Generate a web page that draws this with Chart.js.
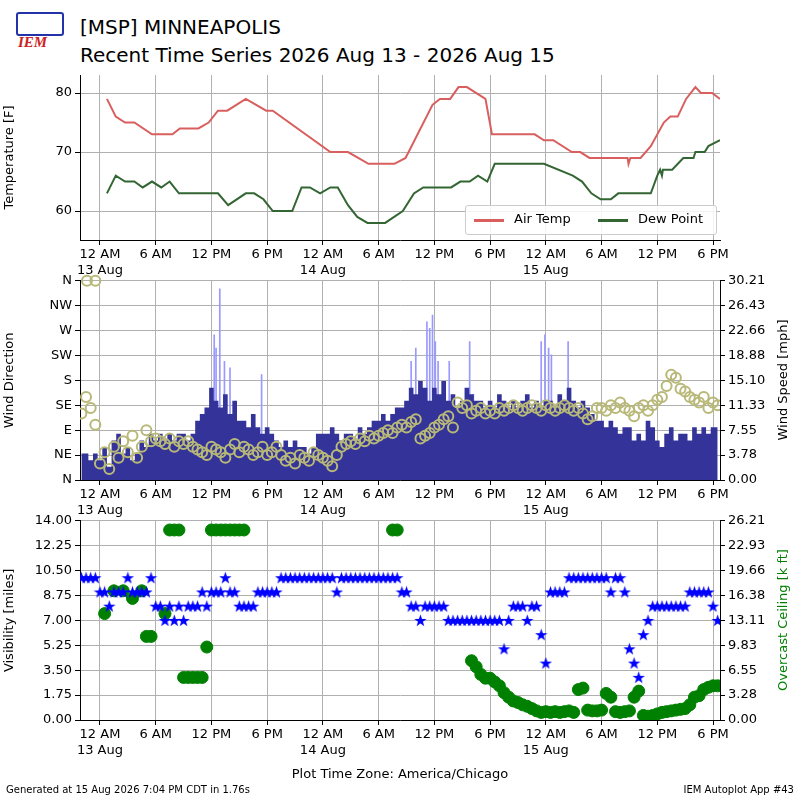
<!DOCTYPE html>
<html><head><meta charset="utf-8">
<script src="https://cdn.jsdelivr.net/npm/chart.js@4/dist/chart.umd.min.js"></script>
<style>
body{margin:0;width:800px;height:800px;background:#fff;position:relative;font-family:"DejaVu Sans",sans-serif;overflow:hidden}
canvas{position:absolute;left:0}
.t{position:absolute;white-space:nowrap;color:#000}
.rt{position:absolute;white-space:nowrap;font-size:13px;transform:translate(-50%,-50%) rotate(-90deg)}
</style></head><body>
<div class="t" style="left:14px;top:10px;width:50px;height:36px;">
  <div style="position:absolute;left:2px;top:2px;width:44px;height:20px;border:2px solid #2233aa;border-radius:3px"></div>
  <div style="position:absolute;left:4px;top:24px;font:italic bold 15px 'Liberation Serif';color:#cc2222">IEM</div>
</div>
<div class="t" style="left:80px;top:15px;font-size:20px">[MSP] MINNEAPOLIS</div>
<div class="t" style="left:80px;top:43px;font-size:20px">Recent Time Series 2026 Aug 13 - 2026 Aug 15</div>
<canvas id="c1" width="800" height="290" style="top:0"></canvas>
<canvas id="c2" width="800" height="260" style="top:270px"></canvas>
<canvas id="c3" width="800" height="260" style="top:510px"></canvas>
<div class="t" style="left:465px;top:205px;width:250px;height:28px;border:1px solid #ccc;border-radius:3px;background:rgba(255,255,255,0.85);font-size:13px">
  <span style="position:absolute;left:8px;top:13px;width:30px;height:3px;background:#d95f5f"></span>
  <span style="position:absolute;left:48px;top:5px">Air Temp</span>
  <span style="position:absolute;left:132px;top:13px;width:30px;height:3px;background:#336633"></span>
  <span style="position:absolute;left:172px;top:5px">Dew Point</span>
</div>
<div class="rt" style="left:782px;top:380px">Wind Speed [mph]</div>
<div class="rt" style="left:782px;top:620px;color:#008000">Overcast Ceiling [k ft]</div>
<div class="t" style="left:0;width:800px;top:766px;text-align:center;font-size:13px">Plot Time Zone: America/Chicago</div>
<div class="t" style="left:6px;top:784px;font-size:10px">Generated at 15 Aug 2026 7:04 PM CDT in 1.76s</div>
<div class="t" style="right:6px;top:784px;font-size:10px">IEM Autoplot App #43</div>
<script>
// hours since 13 Aug 00:00 CDT
const tempTimes = [0.75,1.7,2.7,3.7,5.6,7.8,8.6,10.6,11.7,12.7,13.7,15.7,17.9,18.6,24.8,26.7,27.8,28.9,31.7,32.9,35.8,36.6,37.7,38.6,39.5,41.5,42.2,46.8,47.8,48.8,50.8,51.7,52.7,56.8,56.9,57.1,57.5,58.2,59.3,60.7,61.4,62.2,63.1,64.1,64.7,65.9,66.75];
const airTemp = [79,76,75,75,73,73,74,74,75,77,77,79,77,77,70,70,69,68,68,69,78,79,79,81,81,79,73,73,72,72,70,70,69,69,68,69,69,69,71,75,76,76,79,81,80,80,79];
const dewTimes = [0.75,1.7,2.7,3.7,4.6,5.6,6.6,7.5,8.5,12.7,13.8,15.7,16.6,17.6,18.6,20.7,21.7,22.6,23.7,24.8,25.6,26.7,27.7,28.8,30.7,32.6,33.8,34.8,37.8,38.8,39.8,40.7,41.7,42.5,47.8,50.9,51.9,52.9,53.9,55,55.8,59.3,60,60.3,60.5,60.6,61.6,62.8,63.9,64.1,65.1,65.5,66.75];
const dewPoint = [63,66,65,65,64,65,64,65,63,63,61,63,63,62,60,60,64,64,63,64,64,61,59,58,58,60,63,64,64,65,65,66,65,68,68,66,65,63,62,62,63,63,66,67,66,67,67,69,69,70,70,71,72];

// half-hourly obs, -2.0 h .. 66.5 h
const obsStart = -2, obsStep = 0.5;
const windSpeed = [4,4,3,4, 3,5,2,6,7,4, 5,3,4,6,5,7, 6,7,6,7,6,7, 7,6,7,9, 10,11,14,12,11,13, 10,12,9,9,8,10, 8,7,8,7,6,5, 6,5,6,5,5,4,5,7,
  7,7,8,7,6,7, 7,6,8,7,8,9, 9,10,9,10,11,11, 12,14,13,15,14,12, 14,13,15,12,13,11, 12,14,13,12,12,11, 12,11,13,12,11,12, 11,12,13,11,12,11,
  12,12,11,13,12,14, 12,11,12,11,10,9, 9,8,9,8,7,8, 8,6,7,6,9,8, 6,5,7,8,6,7, 7,6,8,7,8,7,8,8];
const windDir = [120,150,130,100, 30,50,20,60,40,70, 50,80,40,60,90,70, 75,70,65,75,60,70, 65,70,60,55, 50,45,60,55,50,40, 55,65,50,60,55,45, 50,60,45,50,60,45,
  35,40,30,45,40,35,50,45, 40,35,25,45,60,65, 70,65,75,70,80,75, 80,85,90,85,95,100, 95,105,110,75,80,85, 95,100,110,115,95,140, 130,135,120,125,130,120,
  125,120,130,125,130,135, 130,125,130,135,130,125, 135,130,125,130,135,130, 125,130,120,110,115,130, 130,125,135,130,140,130, 125,115,130,135,125,135,
  145,150,170,190,185,165, 160,150,145,140,150,130,140,135];
const dirExtraTimes = [-1.4,-0.5];
const dirExtra = [360,360];
const gustTimes = [12.3,12.5,12.9,13.4,14.0,17.4,33.5,34.0,35.2,35.5,35.8,36.1,36.4,37.0,37.6,39.8,40.2,47.5,47.9,48.3,48.6,50.4,51.0];
const gusts = [22,20,29,18,17,16,18,20,24,23,25,21,18,15,18,21,13,21,22,20,19,21,11];
const visibility = [10,10,10,10, 9,9,8,9,9,9, 10,9,9,9,9,10, 8,8,7,8,7,8, 7,8,8,8, 9,8,9,9,9,10, 9,9,8,8,8,8, 9,9,9,9,9,10, 10,10,10,10,10,10,10,10,
  10,10,10,9,10,10, 10,10,10,10,10,10, 10,10,10,10,10,9, 9,8,8,7,8,8, 8,8,8,7,7,7, 7,7,7,7,7,7, 7,7,7,5,7,8, 8,8,7,8,8,6,
  4,9,9,9,9,10, 10,10,10,10,10,10, 10,10,9,10,10,9, 5,4,3,6,7,8, 8,8,8,8,8,8, 8,9,9,9,9,9,8,7];
const N = null;
const ceiling = [N,N,N,N, N,14,N,17,N,17, N,16,N,17,11,11, N,N,14,25,25,25, 5.6,5.6,5.6,5.6, 5.6,9.6,25,25,25,25, 25,25,25,25,N,N, N,N,N,N,N,N, N,N,N,N,N,N,N,N,
  N,N,N,N,N,N, N,N,N,N,N,N, N,N,N,25,25,N, N,N,N,N,N,N, N,N,N,N,N,N, N,N,7.8,7.0,6.0,5.5, 5.5,5.0,4.5,3.6,3.0,2.5, 2.3,2.0,1.8,1.5,1.2,1.0,
  1.1,1.0,1.1,1.0,1.1,1.2, 1.0,4.0,4.2,1.3,1.2,1.2, 1.3,3.5,3.0,1.1,1.0,1.1, 1.2,3.0,3.8,0.6,0.5,0.6, 0.8,1.0,1.1,1.2,1.3,1.4, 1.5,2.0,3.0,3.2,4.0,4.3,4.5,4.5];
const dirLabels = ['N','NE','E','SE','S','SW','W','NW','N'];
const speedTicks = [0,3.78,7.55,11.33,15.10,18.88,22.66,26.43,30.21];
const visTicks = [0,1.75,3.50,5.25,7.00,8.75,10.50,12.25,14.00];
const ceilTicks = [0,3.28,6.55,9.83,13.11,16.38,19.66,22.93,26.21];

const xy = (ts, vs) => vs.map((v, i) => ({x: ts[i], y: v}));
const obs = vs => vs.map((v, i) => ({x: obsStart + i * obsStep, y: v}));

const FONT = {family: 'DejaVu Sans', size: 13};
Chart.defaults.font = FONT;
Chart.defaults.color = '#000';
Chart.defaults.animation = false;
const GRID = '#b0b0b0';

function fixW(w) { return s => { s.width = w; }; }
function xAxis() {
  return {
    type: 'linear', min: -2.15, max: 66.75, offset: false,
    afterBuildTicks: s => { s.ticks = [0,6,12,18,24,30,36,42,48,54,60,66].map(v => ({value: v})); },
    afterFit: s => { s.height = 50; },
    grid: {color: GRID, tickColor: '#000', tickLength: 5, offset: false},
    border: {color: '#000'},
    ticks: {maxRotation: 0, autoSkip: false, padding: 2, font: FONT,
      callback: v => {
        const h = ((v % 24) + 24) % 24;
        const lab = {0: '12 AM', 6: '6 AM', 12: '12 PM', 18: '6 PM'}[h];
        return h === 0 ? [lab, (13 + v / 24) + ' Aug'] : lab;
      }}
  };
}
function fixedTicks(arr) { return s => { s.ticks = arr.map(v => ({value: v})); }; }

// panel 1: temperatures
new Chart(document.getElementById('c1'), {
  type: 'line',
  data: {datasets: [
    {data: xy(tempTimes, airTemp), borderColor: '#d95f5f', borderWidth: 2, pointRadius: 0},
    {data: xy(dewTimes, dewPoint), borderColor: '#336633', borderWidth: 2, pointRadius: 0}
  ]},
  options: {
    responsive: false, layout: {padding: {top: 75, right: 80, left: 0, bottom: 0}},
    plugins: {legend: {display: false}, tooltip: {enabled: false}},
    scales: {
      x: xAxis(),
      y: {min: 55.1, max: 83.05, afterBuildTicks: fixedTicks([60,70,80]), afterFit: fixW(80),
        grid: {color: GRID, tickColor: '#000', tickLength: 5}, border: {color: '#000'},
        title: {display: true, text: 'Temperature [F]', font: FONT, padding: 2}}
    }
  }
});

// panel 2: wind
new Chart(document.getElementById('c2'), {
  data: {datasets: [
    {type: 'bar', data: xy(gustTimes, gusts), backgroundColor: '#9999ff', barThickness: 1, yAxisID: 'y2', order: 3},
    {type: 'line', data: obs(windSpeed), borderWidth: 0, backgroundColor: '#333399', fill: 'origin', stepped: 'middle', pointRadius: 0, yAxisID: 'y2', order: 2},
    {type: 'line', data: obs(windDir), showLine: false, pointRadius: 5, pointBorderWidth: 2, pointBorderColor: '#b8b878', pointBackgroundColor: 'rgba(0,0,0,0)', yAxisID: 'y', order: 1},
    {type: 'line', data: xy(dirExtraTimes, dirExtra), showLine: false, pointRadius: 5, pointBorderWidth: 2, pointBorderColor: '#b8b878', pointBackgroundColor: 'rgba(0,0,0,0)', yAxisID: 'y', order: 1, clip: false}
  ]},
  options: {
    responsive: false, layout: {padding: {top: 10, right: 0, left: 0, bottom: 0}},
    plugins: {legend: {display: false}, tooltip: {enabled: false}},
    scales: {
      x: xAxis(),
      y: {min: 0, max: 360, afterBuildTicks: fixedTicks([0,45,90,135,180,225,270,315,360]), afterFit: fixW(80),
        grid: {color: GRID, tickColor: '#000', tickLength: 5}, border: {color: '#000'},
        ticks: {callback: v => dirLabels[Math.round(v / 45)]},
        title: {display: true, text: 'Wind Direction', font: FONT, padding: 2}},
      y2: {position: 'right', min: 0, max: 30.21, afterBuildTicks: fixedTicks(speedTicks), afterFit: fixW(80),
        grid: {drawOnChartArea: false, tickColor: '#000', tickLength: 5}, border: {color: '#000'},
        ticks: {callback: v => v.toFixed(2)}}
    }
  }
});

// filled star marker
const star = document.createElement('canvas');
star.width = 13; star.height = 13;
(function () {
  const g = star.getContext('2d');
  g.fillStyle = '#0000ff';
  g.beginPath();
  for (let i = 0; i < 10; i++) {
    const r = i % 2 ? 2.6 : 6.5, a = -Math.PI / 2 + i * Math.PI / 5;
    g.lineTo(6.5 + r * Math.cos(a), 7 + r * Math.sin(a));
  }
  g.closePath(); g.fill();
})();

// panel 3: visibility and ceiling
new Chart(document.getElementById('c3'), {
  type: 'line',
  data: {datasets: [
    {data: obs(visibility), showLine: false, pointStyle: star, yAxisID: 'y'},
    {data: obs(ceiling), showLine: false, pointRadius: 6, pointBackgroundColor: '#008000', pointBorderColor: '#008000', yAxisID: 'y2'}
  ]},
  options: {
    responsive: false, layout: {padding: {top: 10, right: 0, left: 0, bottom: 0}},
    plugins: {legend: {display: false}, tooltip: {enabled: false}},
    scales: {
      x: xAxis(),
      y: {min: 0, max: 14, afterBuildTicks: fixedTicks(visTicks), afterFit: fixW(80),
        grid: {color: GRID, tickColor: '#000', tickLength: 5}, border: {color: '#000'},
        ticks: {callback: v => v.toFixed(2)},
        title: {display: true, text: 'Visibility [miles]', font: FONT, padding: 2}},
      y2: {position: 'right', min: 0, max: 26.21, afterBuildTicks: fixedTicks(ceilTicks), afterFit: fixW(80),
        grid: {drawOnChartArea: false, tickColor: '#000', tickLength: 5}, border: {color: '#000'},
        ticks: {callback: v => v.toFixed(2)}}
    }
  }
});
</script>
</body></html>
